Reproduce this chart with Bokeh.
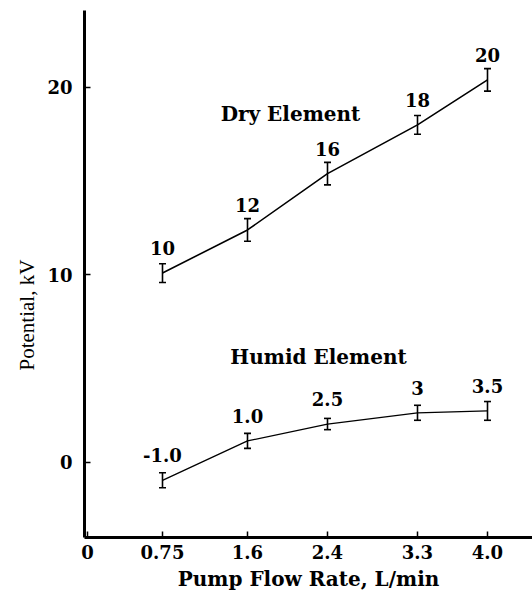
from bokeh.plotting import figure
from bokeh.models import ColumnDataSource, Whisker, Label, FixedTicker, Range1d, Title
from bokeh.core.properties import value
from bokeh.embed import file_html
from bokeh.resources import INLINE

# ---- data ----
flow = [0.75, 1.6, 2.4, 3.3, 4.0]
dry = [10.1, 12.4, 15.4, 18.0, 20.4]
dry_err = [0.5, 0.6, 0.6, 0.5, 0.6]
dry_labels = ["10", "12", "16", "18", "20"]
humid = [-0.95, 1.15, 2.05, 2.65, 2.75]
humid_err = [0.4, 0.4, 0.3, 0.4, 0.5]
humid_labels = ["-1.0", "1.0", "2.5", "3", "3.5"]
x_ticks = [0, 0.75, 1.6, 2.4, 3.3, 4.0]
x_tick_labels = ["0", "0.75", "1.6", "2.4", "3.3", "4.0"]
y_ticks = [0, 10, 20]

FONT = "DejaVu Serif"

dry_src = ColumnDataSource(dict(x=flow, y=dry, lo=[v - e for v, e in zip(dry, dry_err)],
                                hi=[v + e for v, e in zip(dry, dry_err)], t=dry_labels))
hum_src = ColumnDataSource(dict(x=flow, y=humid, lo=[v - e for v, e in zip(humid, humid_err)],
                                hi=[v + e for v, e in zip(humid, humid_err)], t=humid_labels))

p = figure(width=532, height=593, output_backend="svg", toolbar_location=None,
           x_range=Range1d(-0.03, 4.45), y_range=Range1d(-4.0, 24.1),
           min_border_left=84, min_border_right=0, min_border_top=10, min_border_bottom=56)
p.outline_line_color = None
p.grid.visible = False
p.background_fill_color = "white"
p.border_fill_color = "white"

for src, w in ((dry_src, 1.6), (hum_src, 1.3)):
    p.line("x", "y", source=src, line_color="black", line_width=w)
    wk = Whisker(source=src, base="x", lower="lo", upper="hi", line_color="black", line_width=1.6)
    wk.upper_head.size = 7
    wk.lower_head.size = 7
    wk.upper_head.line_width = 1.6
    wk.lower_head.line_width = 1.6
    p.add_layout(wk)
    p.text("x", "y", text="t", source=src, text_font=value(FONT), text_font_style="bold",
           text_font_size="18px", text_align="center", text_baseline="middle",
           y_offset=-25, text_color="black")

p.add_layout(Label(x=2.03, y=18.6, text="Dry Element", text_font=FONT, text_font_style="bold",
                   text_font_size="20px", text_align="center", text_baseline="middle",
                   text_color="black"))
p.add_layout(Label(x=2.31, y=5.65, text="Humid Element", text_font=FONT, text_font_style="bold",
                   text_font_size="20px", text_align="center", text_baseline="middle",
                   text_color="black"))
# y-axis title, placed lower than centre as in the original
p.add_layout(Title(text="Potential, kV", align="left", offset=167, vertical_align="middle",
                   text_font="Liberation Serif", text_font_style="normal",
                   text_font_size="21px", text_color="black", standoff=10), "left")

p.xaxis.ticker = FixedTicker(ticks=x_ticks)
p.xaxis.major_label_overrides = {t: l for t, l in zip(x_ticks, x_tick_labels)}
p.yaxis.ticker = FixedTicker(ticks=y_ticks)
p.xaxis.axis_label = "Pump Flow Rate, L/min"
for ax in (p.xaxis, p.yaxis):
    ax.axis_line_width = 3
    ax.axis_line_color = "black"
    ax.major_tick_in = 6
    ax.major_tick_out = 0
    ax.major_tick_line_width = 1.5
    ax.minor_tick_line_color = None
    ax.major_label_text_font = FONT
    ax.major_label_text_font_style = "bold"
    ax.major_label_text_font_size = "18px"
    ax.major_label_text_color = "black"
p.xaxis.axis_label_text_color = "black"
p.xaxis.axis_label_text_font = FONT
p.xaxis.axis_label_text_font_style = "bold"
p.xaxis.axis_label_text_font_size = "20px"
p.xaxis.major_label_standoff = 7
p.yaxis.major_label_standoff = 12
p.xaxis.axis_label_standoff = 5

open("out.html", "w").write(file_html(p, INLINE))
